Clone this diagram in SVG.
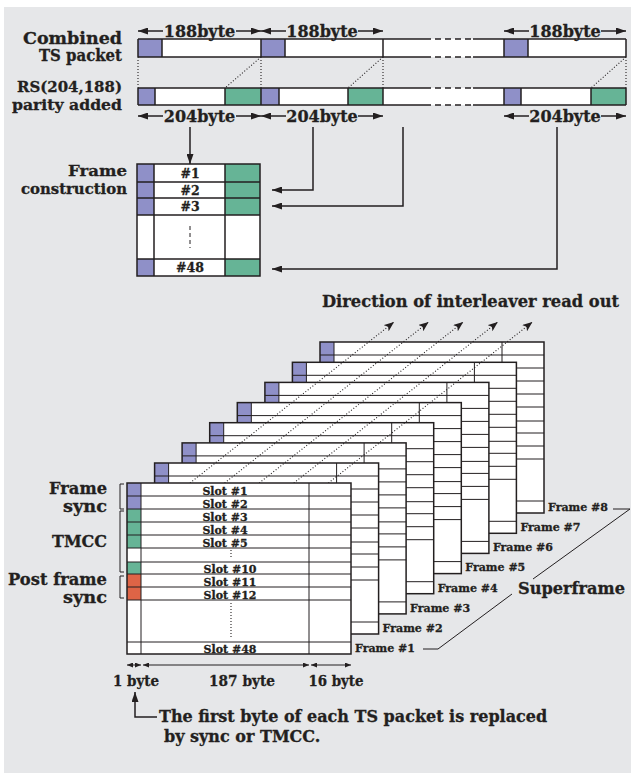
<svg xmlns="http://www.w3.org/2000/svg" width="631" height="775" viewBox="0 0 631 775">
<defs>
<style>
.t{font-family:"DejaVu Serif","Liberation Serif",serif;font-weight:bold;fill:#231f20;stroke:#231f20;stroke-width:0.3px}
.l{font-size:16.5px}
.k{font-size:15.5px}
.d{font-size:16px}
.b{font-size:15px}
.s{font-size:11px}
.e{text-anchor:end}
.m{text-anchor:middle}
.ln{stroke:#231f20;stroke-width:1.5;fill:none}
.thin{stroke:#231f20;stroke-width:1;fill:none}
.dot{stroke:#231f20;stroke-width:1.1;stroke-dasharray:1 2;fill:none}
.pu{fill:#8f90c8}
.gr{fill:#66b496}
.or{fill:#de6446}
.wh{fill:#fff}
</style>
<marker id="a" viewBox="0 0 10 7" refX="10" refY="3.5" markerWidth="10" markerHeight="7" markerUnits="userSpaceOnUse" orient="auto"><path d="M0,0L10,3.5L0,7z" fill="#231f20"/></marker>
<marker id="as" viewBox="0 0 6 5" refX="6" refY="2.5" markerWidth="6" markerHeight="5" markerUnits="userSpaceOnUse" orient="auto"><path d="M0,0L6,2.5L0,5z" fill="#231f20"/></marker>
<marker id="ad" viewBox="0 0 10 8" refX="10" refY="4" markerWidth="10" markerHeight="8" markerUnits="userSpaceOnUse" orient="auto"><path d="M0,0L10,4L0,8L2.5,4z" fill="#231f20"/></marker>
<g id="fr">
<rect width="224" height="171" fill="#fff"/>
<rect width="14" height="26" class="pu"/>
<rect y="26" width="14" height="39" class="gr"/>
<rect y="79" width="14" height="12" class="gr"/>
<rect y="91" width="14" height="26" class="or"/>
<path d="M0,13H224M0,26H224M0,39H224M0,52H224M0,65H224M0,79H224M0,91H224M0,104H224M0,117H224M0,159H224M14,0V171M182,0V171" class="thin"/>
<rect width="224" height="171" class="ln"/>
</g>
</defs>
<rect x="4" y="7" width="627" height="766" fill="#e6e7e9"/>

<g id="labels-top">
<text class="t l e" x="122" y="44" textLength="99" lengthAdjust="spacingAndGlyphs">Combined</text>
<text class="t l e" x="122" y="61" textLength="83" lengthAdjust="spacingAndGlyphs">TS packet</text>
<text class="t k e" x="122" y="92" textLength="105" lengthAdjust="spacingAndGlyphs">RS(204,188)</text>
<text class="t k e" x="122" y="110" textLength="110" lengthAdjust="spacingAndGlyphs">parity added</text>
</g>

<g id="ts-bar">
<rect x="138" y="39" width="488" height="18" class="wh"/>
<rect x="138" y="39" width="24" height="18" class="pu"/>
<rect x="261" y="39" width="24" height="18" class="pu"/>
<rect x="504" y="39" width="24" height="18" class="pu"/>
<path d="M138,39H425M473,39H626M138,57H425M473,57H626M138,39V57M162,39V57M261,39V57M285,39V57M383,39V57M504,39V57M528,39V57M626,39V57" class="ln"/>
<path d="M425,39H473M425,57H473" class="ln" stroke-dasharray="6 4"/>
</g>

<g id="rs-bar">
<rect x="138" y="88" width="488" height="17" class="wh"/>
<rect x="138" y="88" width="17" height="17" class="pu"/>
<rect x="261" y="88" width="18" height="17" class="pu"/>
<rect x="504" y="88" width="17" height="17" class="pu"/>
<rect x="225" y="88" width="36" height="17" class="gr"/>
<rect x="348" y="88" width="35" height="17" class="gr"/>
<rect x="591" y="88" width="35" height="17" class="gr"/>
<path d="M138,88H425M473,88H626M138,105H425M473,105H626M138,88V105M155,88V105M225,88V105M261,88V105M279,88V105M348,88V105M383,88V105M504,88V105M521,88V105M591,88V105M626,88V105" class="ln"/>
<path d="M425,88H473M425,105H473" class="ln" stroke-dasharray="6 4"/>
</g>

<g id="connectors">
<path d="M138,57V88M261,57V88M261,57L225,88M383,57V88M383,57L348,88M626,57V88M626,57L591,88" class="dot"/>
<g class="ln">
<line x1="163" y1="31" x2="138" y2="31" marker-end="url(#a)"/>
<line x1="236" y1="31" x2="261" y2="31" marker-end="url(#a)"/>
<line x1="286" y1="31" x2="261" y2="31" marker-end="url(#a)"/>
<line x1="358" y1="31" x2="383" y2="31" marker-end="url(#a)"/>
<line x1="529" y1="31" x2="504" y2="31" marker-end="url(#a)"/>
<line x1="601" y1="31" x2="626" y2="31" marker-end="url(#a)"/>
<line x1="163" y1="116" x2="138" y2="116" marker-end="url(#a)"/>
<line x1="236" y1="116" x2="261" y2="116" marker-end="url(#a)"/>
<line x1="286" y1="116" x2="261" y2="116" marker-end="url(#a)"/>
<line x1="358" y1="116" x2="383" y2="116" marker-end="url(#a)"/>
<line x1="529" y1="116" x2="504" y2="116" marker-end="url(#a)"/>
<line x1="601" y1="116" x2="626" y2="116" marker-end="url(#a)"/>
<path d="M190,127V164" marker-end="url(#a)"/>
<path d="M313,127V190H272" marker-end="url(#a)"/>
<path d="M403,127V206H272" marker-end="url(#a)"/>
<path d="M557,127V269H272" marker-end="url(#a)"/>
</g>
</g>

<g id="dims">
<text class="t d m" x="199.5" y="37">188byte</text>
<text class="t d m" x="322" y="37">188byte</text>
<text class="t d m" x="565" y="37">188byte</text>
<text class="t d m" x="199.5" y="122">204byte</text>
<text class="t d m" x="322" y="122">204byte</text>
<text class="t d m" x="565" y="122">204byte</text>
</g>

<g id="frame-construction">
<text class="t k e" x="127" y="176" textLength="59" lengthAdjust="spacingAndGlyphs">Frame</text>
<text class="t k e" x="127" y="194" textLength="106" lengthAdjust="spacingAndGlyphs">construction</text>
<rect x="137" y="164" width="123" height="112" class="wh"/>
<rect x="137" y="164" width="17" height="51" class="pu"/>
<rect x="137" y="259" width="17" height="17" class="pu"/>
<rect x="225" y="164" width="35" height="51" class="gr"/>
<rect x="225" y="259" width="35" height="17" class="gr"/>
<path d="M137,182H260M137,198H260M137,215H260M137,259H260M154,164V276M225,164V276" class="ln"/>
<rect x="137" y="164" width="123" height="112" class="ln"/>
<path d="M190,226V248" class="thin" stroke-dasharray="4 3"/>
<text class="t m" font-size="12.5" x="190" y="178">#1</text>
<text class="t m" font-size="12.5" x="190" y="195">#2</text>
<text class="t m" font-size="12.5" x="190" y="211">#3</text>
<text class="t m" font-size="12.5" x="190" y="272">#48</text>
</g>

<text class="t l" x="322" y="307" textLength="297" lengthAdjust="spacingAndGlyphs">Direction of interleaver read out</text>

<g id="frame8"><use href="#fr" transform="translate(320,342)"/></g>
<g id="frame7"><use href="#fr" transform="translate(292.4,362.3)"/></g>
<g id="frame6"><use href="#fr" transform="translate(264.9,382.4)"/></g>
<g id="frame5"><use href="#fr" transform="translate(237.3,402.6)"/></g>
<g id="frame4"><use href="#fr" transform="translate(209.7,422.7)"/></g>
<g id="frame3"><use href="#fr" transform="translate(182.1,442.9)"/></g>
<g id="frame2"><use href="#fr" transform="translate(154.6,463)"/></g>

<g id="readout" class="dot">
<line x1="190" y1="483" x2="394" y2="322" marker-end="url(#ad)"/>
<line x1="224.6" y1="483" x2="428.6" y2="322" marker-end="url(#ad)"/>
<line x1="259.2" y1="483" x2="463.2" y2="322" marker-end="url(#ad)"/>
<line x1="293.8" y1="483" x2="497.8" y2="322" marker-end="url(#ad)"/>
<line x1="328.4" y1="483" x2="532.4" y2="322" marker-end="url(#ad)"/>
</g>

<g id="frame1">
<use href="#fr" transform="translate(127,483)"/>
<text class="t s m" x="225" y="495">Slot #1</text>
<text class="t s m" x="225" y="508">Slot #2</text>
<text class="t s m" x="225" y="521">Slot #3</text>
<text class="t s m" x="225" y="534">Slot #4</text>
<text class="t s m" x="225" y="547">Slot #5</text>
<text class="t s m" x="230" y="573">Slot #10</text>
<text class="t s m" x="230" y="586">Slot #11</text>
<text class="t s m" x="230" y="599">Slot #12</text>
<text class="t s m" x="230" y="653">Slot #48</text>
<path d="M231,550V559M231,603V637" class="dot"/>
</g>

<g id="frame-labels">
<text class="t s" x="355" y="652" textLength="60" lengthAdjust="spacingAndGlyphs">Frame #1</text>
<text class="t s" x="382.6" y="632" textLength="60" lengthAdjust="spacingAndGlyphs">Frame #2</text>
<text class="t s" x="410.1" y="612" textLength="60" lengthAdjust="spacingAndGlyphs">Frame #3</text>
<text class="t s" x="437.7" y="592" textLength="60" lengthAdjust="spacingAndGlyphs">Frame #4</text>
<text class="t s" x="465.3" y="571" textLength="60" lengthAdjust="spacingAndGlyphs">Frame #5</text>
<text class="t s" x="492.9" y="551" textLength="60" lengthAdjust="spacingAndGlyphs">Frame #6</text>
<text class="t s" x="520.4" y="531" textLength="60" lengthAdjust="spacingAndGlyphs">Frame #7</text>
<text class="t s" x="548" y="511" textLength="60" lengthAdjust="spacingAndGlyphs">Frame #8</text>
<path d="M423,649H438L512,594M533,579L630,509H613" class="thin"/>
<text class="t l" x="518" y="594" textLength="107" lengthAdjust="spacingAndGlyphs">Superframe</text>
</g>

<g id="slot-groups">
<text class="t l e" x="107" y="494" textLength="58" lengthAdjust="spacingAndGlyphs">Frame</text>
<text class="t l e" x="107" y="512" textLength="44" lengthAdjust="spacingAndGlyphs">sync</text>
<text class="t l e" x="107" y="547" textLength="55" lengthAdjust="spacingAndGlyphs">TMCC</text>
<text class="t l e" x="107" y="585" textLength="99" lengthAdjust="spacingAndGlyphs">Post frame</text>
<text class="t l e" x="107" y="603" textLength="44" lengthAdjust="spacingAndGlyphs">sync</text>
<path d="M124,484H120V509H124M124,511H120V572H124M124,576H120V598H124" class="thin"/>
</g>

<g id="bytes">
<line x1="134" y1="665" x2="127" y2="665" class="thin" marker-end="url(#as)"/>
<line x1="134" y1="665" x2="141" y2="665" class="thin" marker-end="url(#as)"/>
<line x1="226" y1="665" x2="143" y2="665" class="thin" marker-end="url(#as)"/>
<line x1="226" y1="665" x2="309" y2="665" class="thin" marker-end="url(#as)"/>
<line x1="331" y1="665" x2="311" y2="665" class="thin" marker-end="url(#as)"/>
<line x1="331" y1="665" x2="351" y2="665" class="thin" marker-end="url(#as)"/>
<text class="t b m" x="136" y="686" textLength="46" lengthAdjust="spacingAndGlyphs">1 byte</text>
<text class="t b m" x="242" y="686" textLength="66" lengthAdjust="spacingAndGlyphs">187 byte</text>
<text class="t b m" x="336" y="686" textLength="55" lengthAdjust="spacingAndGlyphs">16 byte</text>
<path d="M157,717H135V692" class="ln" marker-end="url(#a)"/>
<text class="t d" x="159" y="722">The first byte of each TS packet is replaced</text>
<text class="t d" x="164" y="742">by sync or TMCC.</text>
</g>
</svg>
